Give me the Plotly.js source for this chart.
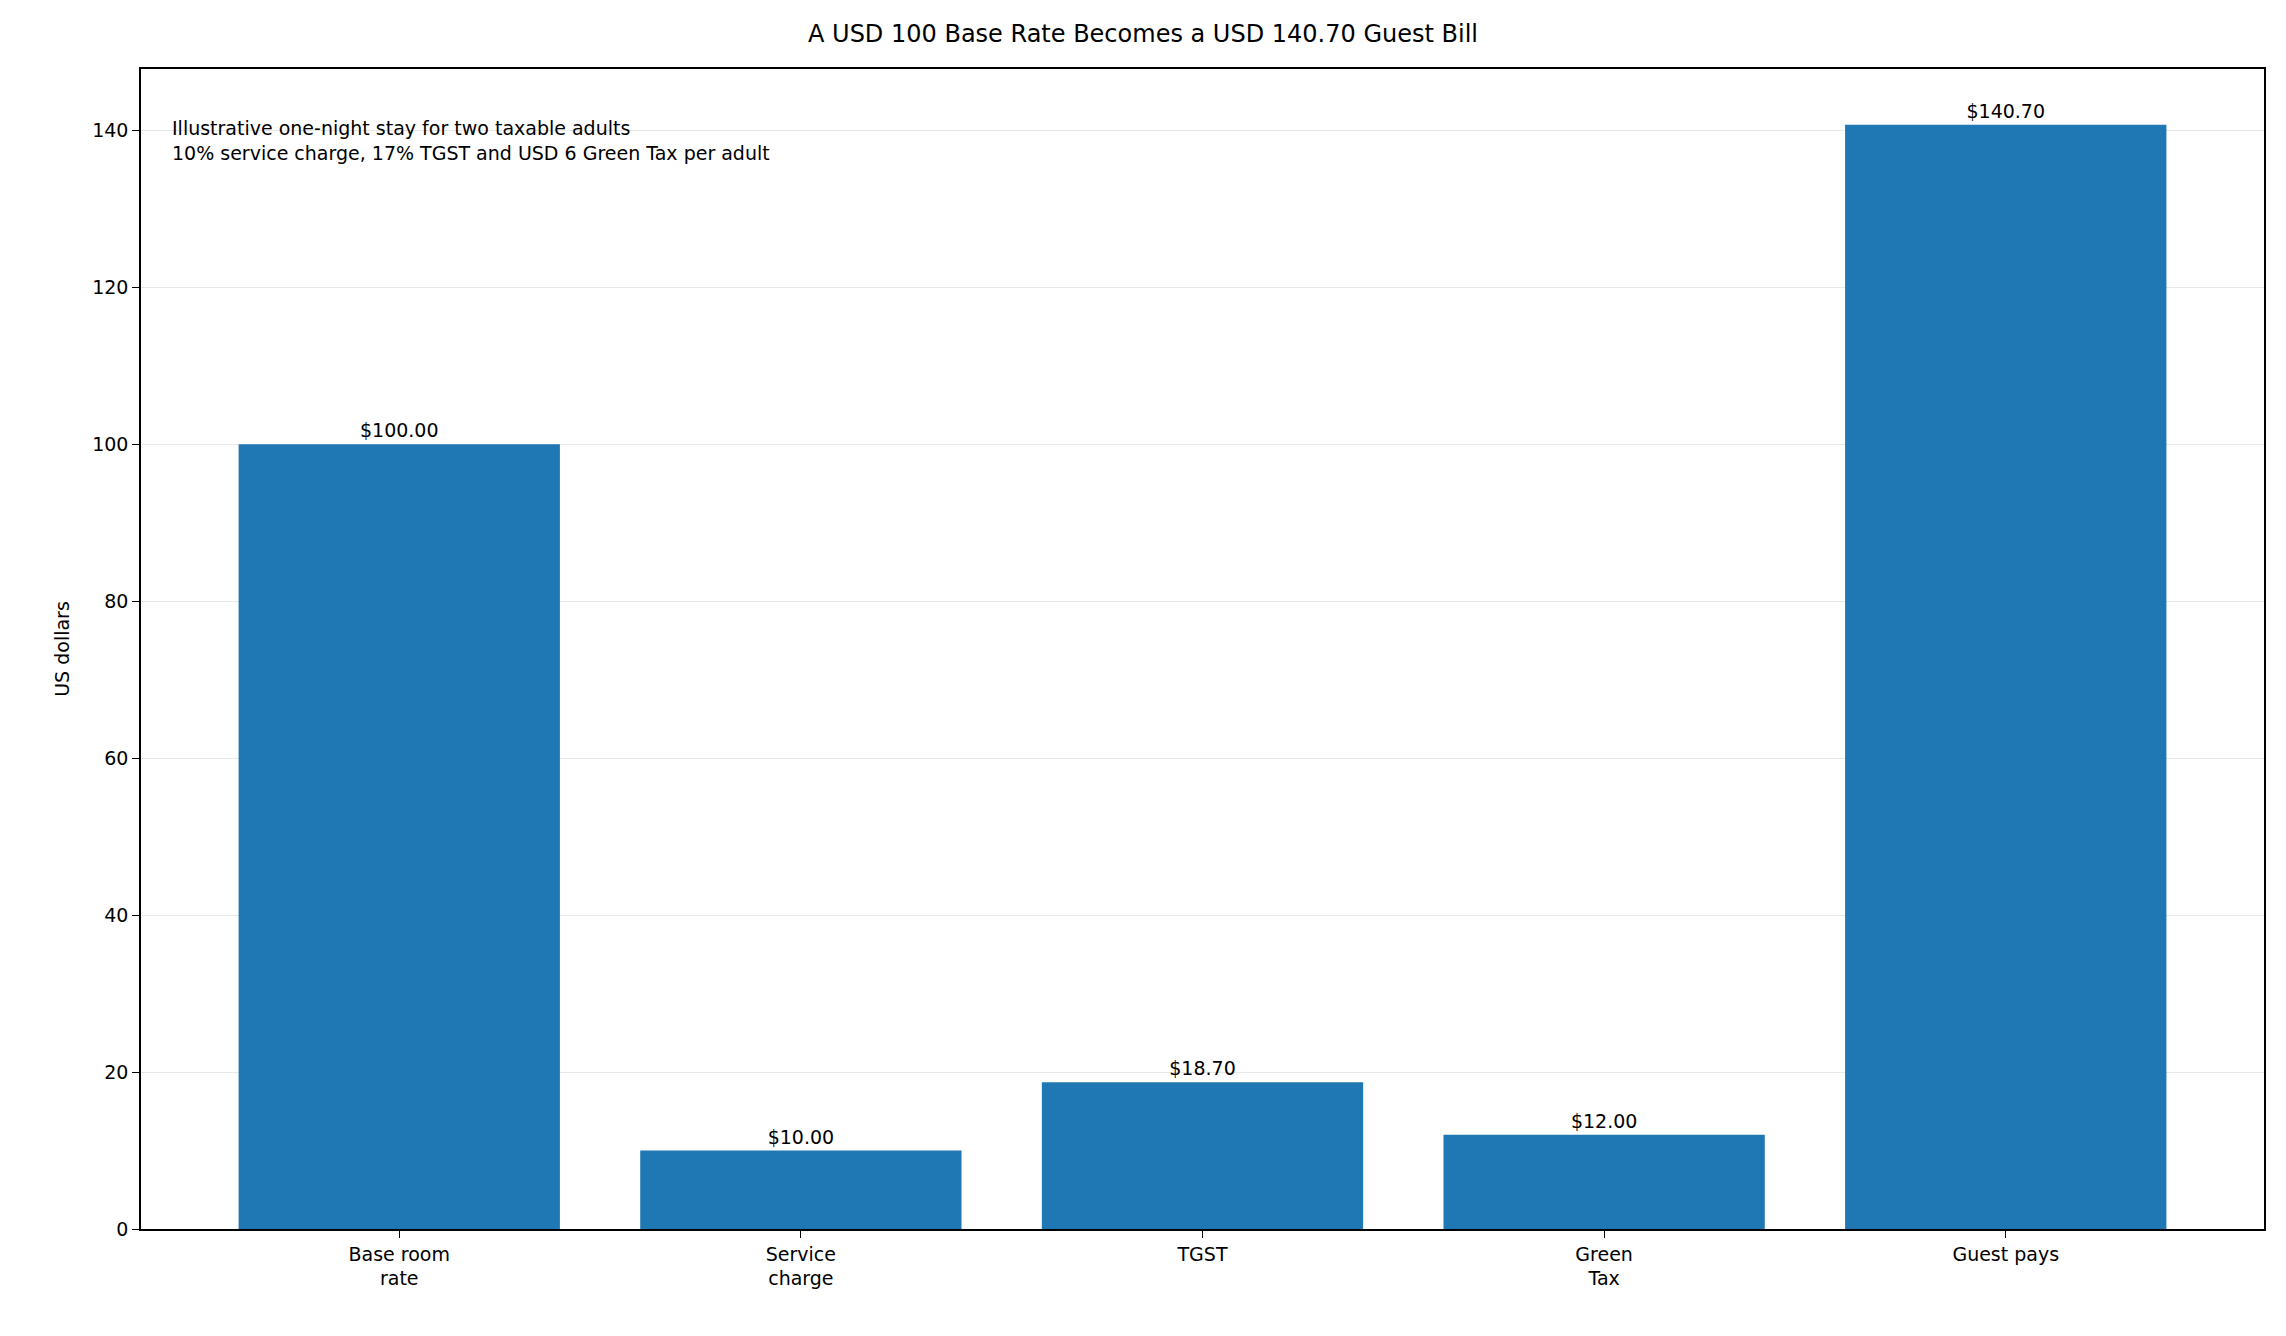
<!DOCTYPE html>
<html>
<head>
<meta charset="utf-8">
<script src="https://cdn.plot.ly/plotly-3.0.1.min.js"></script>
<style>body{margin:0;background:#fff}#chart{width:2286px;height:1336px}</style>
</head>
<body>
<div id="chart"></div>
<script>
// Bill components
const categories = ['Base room<br>rate', 'Service<br>charge', 'TGST', 'Green<br>Tax', 'Guest pays'];
const amounts = [100.00, 10.00, 18.70, 12.00, 140.70];
const yTicks = [0, 20, 40, 60, 80, 100, 120, 140];

const FONT = 'DejaVu Sans, sans-serif';
const xIdx = categories.map((c, i) => i);

const data = [{
  type: 'bar',
  x: xIdx,
  y: amounts,
  width: 0.8,
  marker: { color: '#1f77b4' },
  text: amounts.map(v => '$' + v.toFixed(2)),
  textposition: 'outside',
  cliponaxis: false,
  textfont: { family: FONT, size: 19, color: '#000' },
  hoverinfo: 'skip'
}];

const layout = {
  width: 2286,
  height: 1336,
  paper_bgcolor: 'white',
  plot_bgcolor: 'white',
  margin: { l: 141, r: 22, t: 69, b: 107 },
  showlegend: false,
  font: { family: FONT, size: 19, color: '#000' },
  title: {
    text: 'A USD 100 Base Rate Becomes a USD 140.70 Guest Bill',
    font: { family: FONT, size: 24, color: '#000' },
    x: 0.5, xanchor: 'center', y: 0.975, yanchor: 'middle'
  },
  xaxis: {
    range: [-0.643, 4.643],
    tickvals: xIdx,
    ticktext: categories,
    ticks: 'outside', ticklen: 7, tickcolor: '#000',
    showline: true, linecolor: '#000', linewidth: 1.5, mirror: true,
    showgrid: false, zeroline: false,
    tickfont: { family: FONT, size: 19 }
  },
  yaxis: {
    range: [0, 147.8],
    tickvals: yTicks,
    ticks: 'outside', ticklen: 7, tickcolor: '#000',
    showline: true, linecolor: '#000', linewidth: 1.5, mirror: true,
    showgrid: true, gridcolor: '#e8e8e8', gridwidth: 1, zeroline: false,
    tickfont: { family: FONT, size: 19 },
    title: { text: 'US dollars', font: { family: FONT, size: 19 }, standoff: 18 }
  },
  bargap: 0.2,
  annotations: [{
    xref: 'paper', yref: 'paper', x: 0.0135, y: 0.96,
    xanchor: 'left', yanchor: 'top', align: 'left', showarrow: false,
    text: 'Illustrative one-night stay for two taxable adults<br>10% service charge, 17% TGST and USD 6 Green Tax per adult',
    font: { family: FONT, size: 19, color: '#000' }
  }]
};

Plotly.newPlot('chart', data, layout, { displayModeBar: false });
</script>
</body>
</html>
